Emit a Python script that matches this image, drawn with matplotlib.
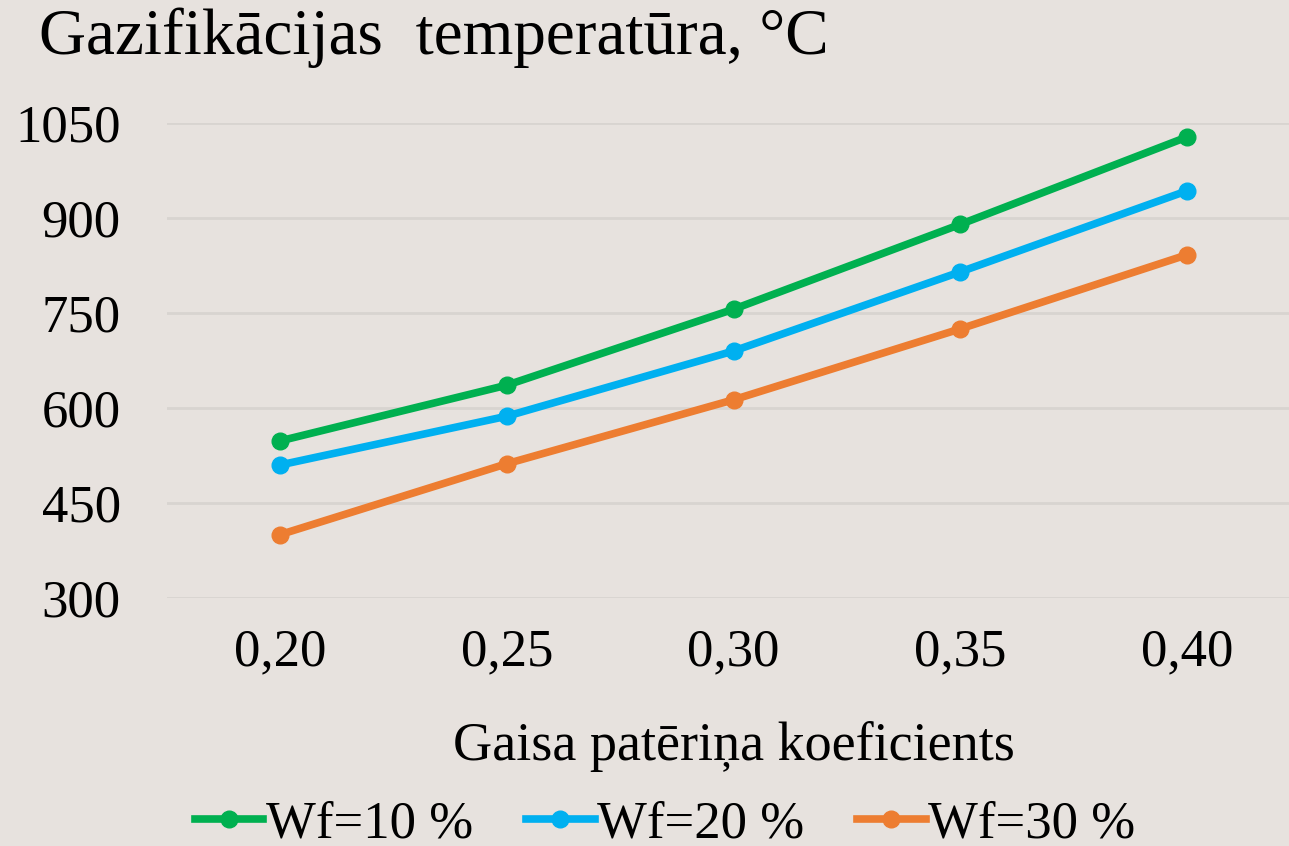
import numpy as np
import matplotlib.pyplot as plt

plt.rcParams['font.family'] = ['Liberation Serif', 'DejaVu Serif']

# Gaisa patēriņa koeficients un gazifikācijas temperatūra
koeficienti = ['0,20', '0,25', '0,30', '0,35', '0,40']
temp_wf10 = [548, 636, 756, 890, 1028]
temp_wf20 = [510, 587, 690, 815, 943]
temp_wf30 = [400, 512, 613, 725, 842]
y_ticks = [300, 450, 600, 750, 900, 1050]

fons = '#E7E2DE'
fig = plt.figure(figsize=(12.89, 8.46), dpi=100, facecolor=fons)
# zīmēšanas laukums (labā mala iziet ārpus attēla)
ax = fig.add_axes([0.1292, (846 - 598) / 846, 1.009 - 0.1292, (598 - 123) / 846])
ax.set_facecolor(fons)

x = np.arange(len(koeficienti))
ax.plot(x, temp_wf10, color='#00B050', lw=5.5, marker='o', ms=12, label='Wf=10 %')
ax.plot(x, temp_wf20, color='#00B0F0', lw=5.5, marker='o', ms=12, label='Wf=20 %')
ax.plot(x, temp_wf30, color='#ED7D31', lw=5.5, marker='o', ms=12, label='Wf=30 %')

ax.set_xlim(-0.5, len(koeficienti) - 0.5)
ax.set_ylim(300, 1050)
ax.set_xticks(x)
ax.set_xticklabels(koeficienti)
ax.set_yticks(y_ticks)
ax.tick_params(axis='both', labelsize=38, length=0)
ax.tick_params(axis='x', pad=22)
ax.tick_params(axis='y', pad=33)
ax.grid(axis='y', color='#D8D4D0', lw=2)
ax.set_axisbelow(True)
for s in ax.spines.values():
    s.set_visible(False)

fig.text(0.03, 0.955, 'Gazifikācijas  temperatūra, °C', fontsize=47, va='center', ha='left')
fig.text(0.569, 0.118, 'Gaisa patēriņa koeficients', fontsize=39, va='center', ha='center')

fig.legend(loc='center', bbox_to_anchor=(0.516, 0.026), ncol=3, frameon=False,
           fontsize=38, handlelength=1.3, columnspacing=1.0, handletextpad=0.05,
           borderaxespad=0)

fig.savefig('out.png', dpi=100, facecolor=fons)
